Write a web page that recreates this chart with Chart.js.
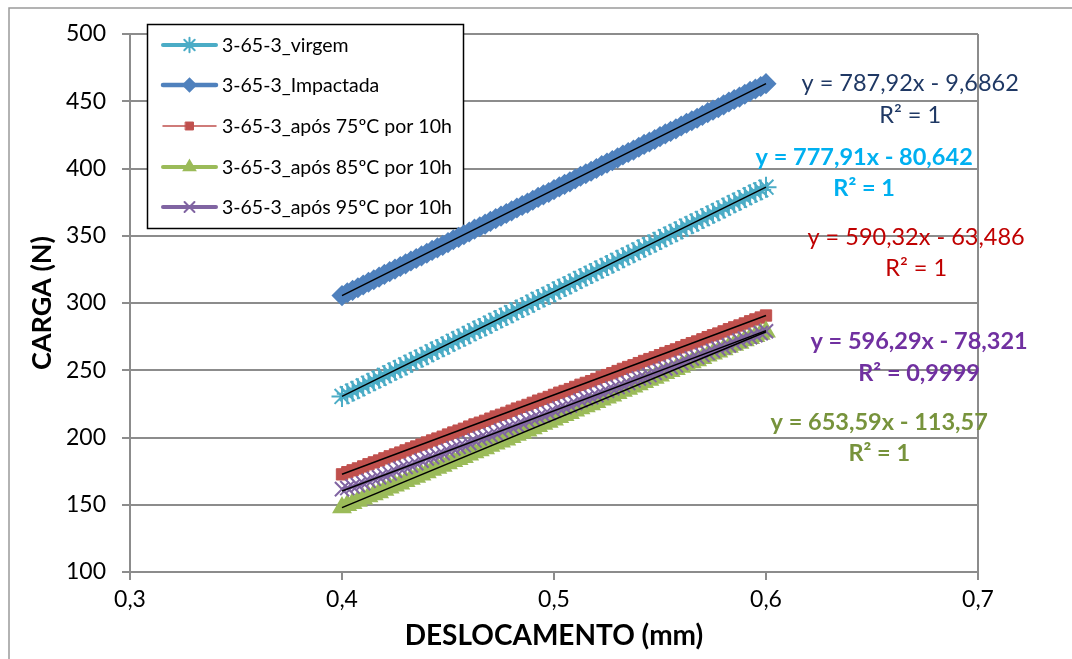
<!DOCTYPE html>
<html>
<head>
<meta charset="utf-8">
<script src="https://cdn.jsdelivr.net/npm/chart.js@4.4.0/dist/chart.umd.min.js"></script>
<style>
  html, body { margin: 0; padding: 0; background: #fff; }
  canvas { display: block; }
</style>
</head>
<body>
<canvas id="myChart" width="1072" height="659"></canvas>
<script>
// deslocamento (mm), shared by all the samples
var desloc = [
  0.4000, 0.4025, 0.4050, 0.4075, 0.4100, 0.4125, 0.4150, 0.4175, 0.4200, 0.4225,
  0.4250, 0.4275, 0.4300, 0.4325, 0.4350, 0.4375, 0.4400, 0.4425, 0.4450, 0.4475,
  0.4500, 0.4525, 0.4550, 0.4575, 0.4600, 0.4625, 0.4650, 0.4675, 0.4700, 0.4725,
  0.4750, 0.4775, 0.4800, 0.4825, 0.4850, 0.4875, 0.4900, 0.4925, 0.4950, 0.4975,
  0.5000, 0.5025, 0.5050, 0.5075, 0.5100, 0.5125, 0.5150, 0.5175, 0.5200, 0.5225,
  0.5250, 0.5275, 0.5300, 0.5325, 0.5350, 0.5375, 0.5400, 0.5425, 0.5450, 0.5475,
  0.5500, 0.5525, 0.5550, 0.5575, 0.5600, 0.5625, 0.5650, 0.5675, 0.5700, 0.5725,
  0.5750, 0.5775, 0.5800, 0.5825, 0.5850, 0.5875, 0.5900, 0.5925, 0.5950, 0.5975,
  0.6000
];

// carga (N) per sample
var virgem = [
  230.5, 232.6, 234.4, 236.3, 238.3, 240.3, 242.2, 244.0, 246.1, 248.1,
  250.0, 251.8, 253.9, 255.9, 257.8, 259.6, 261.6, 263.7, 265.5, 267.4,
  269.4, 271.5, 273.3, 275.2, 277.2, 279.3, 281.1, 282.9, 285.0, 287.0,
  288.9, 290.7, 292.8, 294.8, 296.7, 298.5, 300.6, 302.6, 304.4, 306.3,
  308.3, 310.4, 312.2, 314.1, 316.1, 318.2, 320.0, 321.9, 323.9, 325.9,
  327.8, 329.6, 331.7, 333.7, 335.6, 337.4, 339.5, 341.5, 343.3, 345.2,
  347.2, 349.3, 351.1, 353.0, 355.0, 357.1, 358.9, 360.8, 362.8, 364.8,
  366.7, 368.5, 370.6, 372.6, 374.5, 376.3, 378.4, 380.4, 382.2, 384.1,
  386.1
];
var impactada = [
  305.5, 307.6, 309.4, 311.3, 313.4, 315.4, 317.3, 319.2, 321.3, 323.3,
  325.2, 327.1, 329.1, 331.2, 333.1, 335.0, 337.0, 339.1, 341.0, 342.8,
  344.9, 347.0, 348.8, 350.7, 352.8, 354.9, 356.7, 358.6, 360.7, 362.7,
  364.6, 366.5, 368.5, 370.6, 372.5, 374.3, 376.4, 378.5, 380.4, 382.2,
  384.3, 386.3, 388.2, 390.1, 392.2, 394.2, 396.1, 398.0, 400.0, 402.1,
  404.0, 405.9, 407.9, 410.0, 411.9, 413.7, 415.8, 417.9, 419.7, 421.6,
  423.7, 425.7, 427.6, 429.5, 431.6, 433.6, 435.5, 437.4, 439.4, 441.5,
  443.4, 445.2, 447.3, 449.4, 451.3, 453.1, 455.2, 457.3, 459.1, 461.0,
  463.1
];
var apos75 = [
  172.6, 174.2, 175.6, 177.0, 178.5, 180.1, 181.5, 182.9, 184.5, 186.0,
  187.4, 188.8, 190.4, 191.9, 193.3, 194.7, 196.3, 197.8, 199.2, 200.6,
  202.2, 203.7, 205.1, 206.5, 208.1, 209.7, 211.0, 212.4, 214.0, 215.6,
  216.9, 218.3, 219.9, 221.5, 222.8, 224.2, 225.8, 227.4, 228.7, 230.1,
  231.7, 233.3, 234.6, 236.0, 237.6, 239.2, 240.6, 241.9, 243.5, 245.1,
  246.4, 247.8, 249.4, 251.0, 252.4, 253.7, 255.3, 256.9, 258.3, 259.6,
  261.2, 262.8, 264.2, 265.5, 267.1, 268.7, 270.1, 271.4, 273.0, 274.6,
  276.0, 277.3, 278.9, 280.5, 281.9, 283.3, 284.8, 286.4, 287.8, 289.2,
  290.7
];
var apos85 = [
  147.9, 149.6, 151.1, 152.7, 154.4, 156.1, 157.7, 159.2, 160.9, 162.7,
  164.2, 165.7, 167.5, 169.2, 170.7, 172.3, 174.0, 175.8, 177.3, 178.8,
  180.6, 182.3, 183.8, 185.4, 187.1, 188.8, 190.4, 191.9, 193.6, 195.4,
  196.9, 198.4, 200.2, 201.9, 203.4, 205.0, 206.7, 208.4, 210.0, 211.5,
  213.2, 215.0, 216.5, 218.1, 219.8, 221.5, 223.1, 224.6, 226.3, 228.1,
  229.6, 231.1, 232.9, 234.6, 236.1, 237.7, 239.4, 241.1, 242.7, 244.2,
  245.9, 247.7, 249.2, 250.7, 252.5, 254.2, 255.8, 257.3, 259.0, 260.8,
  262.3, 263.8, 265.5, 267.3, 268.8, 270.3, 272.1, 273.8, 275.3, 276.9,
  278.6
];
var apos95 = [
  161.6, 162.4, 163.5, 164.6, 166.0, 167.8, 169.3, 170.4, 171.8, 173.3,
  175.3, 176.9, 178.0, 179.2, 180.9, 182.8, 184.4, 185.4, 186.8, 188.3,
  190.2, 191.9, 193.0, 194.2, 195.8, 197.7, 199.3, 200.3, 201.7, 203.2,
  205.1, 206.8, 207.8, 209.1, 210.7, 212.6, 214.2, 215.2, 216.6, 218.1,
  219.9, 221.6, 222.6, 223.9, 225.6, 227.5, 229.1, 230.0, 231.5, 233.1,
  234.8, 236.5, 237.5, 238.8, 240.5, 242.4, 243.9, 244.9, 246.4, 248.0,
  249.6, 251.3, 252.3, 253.7, 255.4, 257.3, 258.8, 259.8, 261.3, 262.8,
  264.4, 266.1, 267.1, 268.5, 270.3, 272.1, 273.6, 274.6, 276.1, 277.6,
  279.0
];

var seriesNames = ['3-65-3_virgem', '3-65-3_Impactada', '3-65-3_após 75ºC por 10h',
                   '3-65-3_após 85ºC por 10h', '3-65-3_após 95ºC por 10h'];

// linear trendlines y = a*x + b and their R²
var trendA = [777.91, 787.92, 590.32, 653.59, 596.29];
var trendB = [-80.642, -9.6862, -63.486, -113.57, -78.321];
var trendR2 = ['1', '1', '1', '1', '0,9999'];
var trendText = ['y = 777,91x - 80,642', 'y = 787,92x - 9,6862', 'y = 590,32x - 63,486',
                 'y = 653,59x - 113,57', 'y = 596,29x - 78,321'];

var xTicks = ['0,3', '0,4', '0,5', '0,6', '0,7'];

// where each equation box sits, in axis units (x = deslocamento, y = carga)
var eqAt = [
  { x: 0.6463, y: 408.6, r2y: 385.5, color: '#00B0F0', bold: true },
  { x: 0.6680, y: 463.6, r2y: 439.8, color: '#1F3864', bold: false },
  { x: 0.6708, y: 349.1, r2y: 326.0, color: '#C00000', bold: false },
  { x: 0.6534, y: 211.5, r2y: 188.5, color: '#77933C', bold: true },
  { x: 0.6722, y: 271.7, r2y: 248.0, color: '#7030A0', bold: true }
];

var allY = [virgem, impactada, apos75, apos85, apos95];
var colors = ['#4BACC6', '#4F81BD', '#C0504D', '#9BBB59', '#8064A2'];
var markers = ['star', 'rectRot', 'rect', 'triangle', 'crossRot'];
var lineW = [4, 4.5, 1.5, 4, 4];
var markR = [10.5, 9.5, 8, 10, 10];
var markBW = [2, 1.5, 1, 1.5, 2];

function toPoints(ys) {
  return ys.map(function (v, i) { return { x: desloc[i], y: v }; });
}

var datasets = [];
allY.forEach(function (ys, i) {
  datasets.push({
    label: seriesNames[i],
    data: toPoints(ys),
    showLine: true,
    borderColor: colors[i],
    backgroundColor: colors[i],
    borderWidth: lineW[i],
    pointStyle: markers[i],
    pointRadius: markR[i],
    pointBorderWidth: markBW[i],
    pointBackgroundColor: colors[i],
    pointBorderColor: colors[i],
    order: 5 - i
  });
});

// black trendlines on top of everything
var x0 = desloc[0], x1 = desloc[desloc.length - 1];
trendA.forEach(function (a, i) {
  datasets.push({
    label: '',
    isTrend: true,
    data: [{ x: x0, y: a * x0 + trendB[i] }, { x: x1, y: a * x1 + trendB[i] }],
    showLine: true,
    borderColor: '#000',
    borderWidth: 1.5,
    pointRadius: 0,
    order: -1
  });
});

var gridGray = '#8C8C8C';

var frame = {
  id: 'frame',
  beforeDraw: function (chart) {
    var ctx = chart.ctx;
    ctx.save();
    ctx.fillStyle = '#fff';
    ctx.fillRect(0, 0, chart.width, chart.height);
    ctx.strokeStyle = '#9A9A9A';
    ctx.lineWidth = 1.5;
    ctx.strokeRect(9, 8, chart.width + 20, chart.height + 20);
    ctx.restore();
  }
};

// boxed legend inside the plot, drawn under the data
var boxLegend = {
  id: 'boxLegend',
  beforeDatasetsDraw: function (chart) {
    var ctx = chart.ctx;
    ctx.save();
    ctx.fillStyle = '#fff';
    ctx.fillRect(147, 24, 316, 204);
    ctx.strokeStyle = '#000';
    ctx.lineWidth = 1.5;
    ctx.strokeRect(147.5, 24.5, 316, 204);
    var rowY = [45, 85, 126, 167, 207];
    chart.data.datasets.forEach(function (ds, i) {
      if (ds.isTrend) return;
      var y = rowY[i];
      ctx.strokeStyle = ds.borderColor;
      ctx.lineWidth = ds.borderWidth;
      ctx.lineCap = 'round';
      ctx.beginPath();
      ctx.moveTo(163, y);
      ctx.lineTo(216, y);
      ctx.stroke();
      ctx.fillStyle = ds.pointBackgroundColor;
      ctx.strokeStyle = ds.pointBorderColor;
      ctx.lineWidth = ds.pointBorderWidth;
      Chart.helpers.drawPoint(ctx, {
        pointStyle: ds.pointStyle, rotation: 0,
        radius: ds.pointRadius * 0.7, borderWidth: ds.pointBorderWidth
      }, 189.5, y);
      ctx.fillStyle = '#000';
      ctx.font = '19.5px Lato';
      ctx.textBaseline = 'middle';
      ctx.textAlign = 'left';
      ctx.fillText(ds.label, 222, y + 1);
    });
    ctx.restore();
  }
};

// trendline equations and R²
var equations = {
  id: 'equations',
  afterDraw: function (chart) {
    var ctx = chart.ctx, sx = chart.scales.x, sy = chart.scales.y;
    ctx.save();
    ctx.textAlign = 'center';
    ctx.textBaseline = 'middle';
    eqAt.forEach(function (e, i) {
      ctx.fillStyle = e.color;
      ctx.font = (e.bold ? 'bold ' : '') + '23.5px Lato';
      var px = sx.getPixelForValue(e.x);
      ctx.fillText(trendText[i], px, sy.getPixelForValue(e.y));
      ctx.fillText('R² = ' + trendR2[i], px, sy.getPixelForValue(e.r2y));
    });
    ctx.restore();
  }
};

var ctx = document.getElementById('myChart').getContext('2d');
var loadChart = new Chart(ctx, {
  type: 'scatter',
  data: { datasets: datasets },
  options: {
    responsive: false,
    animation: false,
    devicePixelRatio: 1,
    layout: { padding: { top: 34, right: 94, left: 0, bottom: 0 } },
    plugins: {
      legend: { display: false },
      tooltip: { enabled: false }
    },
    scales: {
      x: {
        type: 'linear',
        min: 0.3,
        max: 0.7,
        afterFit: function (scale) { scale.height = 87; },
        afterBuildTicks: function (scale) {
          scale.ticks = xTicks.map(function (t, i) { return { value: 0.3 + i * 0.1 }; });
        },
        ticks: {
          color: '#000',
          font: { family: 'Lato', size: 23 },
          padding: 6,
          callback: function (v, i) { return xTicks[i]; }
        },
        grid: {
          color: function (c) { return c.index === xTicks.length - 1 ? gridGray : 'rgba(0,0,0,0)'; },
          tickColor: gridGray,
          tickLength: 8,
          lineWidth: 2
        },
        border: { color: gridGray, width: 2 },
        title: {
          display: true,
          text: 'DESLOCAMENTO (mm)',
          color: '#000',
          font: { family: 'Lato', size: 28, weight: 'bold' },
          padding: { top: 0, bottom: 6 }
        }
      },
      y: {
        min: 100,
        max: 500,
        afterFit: function (scale) { scale.width = 130; },
        ticks: {
          stepSize: 50,
          color: '#000',
          font: { family: 'Lato', size: 23 },
          padding: 16
        },
        grid: {
          color: gridGray,
          tickColor: gridGray,
          tickLength: 8,
          lineWidth: 2
        },
        border: { color: gridGray, width: 2 },
        title: {
          display: true,
          text: 'CARGA (N)',
          color: '#000',
          font: { family: 'Lato', size: 27, weight: 'bold' },
          padding: { top: 26, bottom: 0 }
        }
      }
    }
  },
  plugins: [frame, boxLegend, equations]
});
</script>
</body>
</html>
